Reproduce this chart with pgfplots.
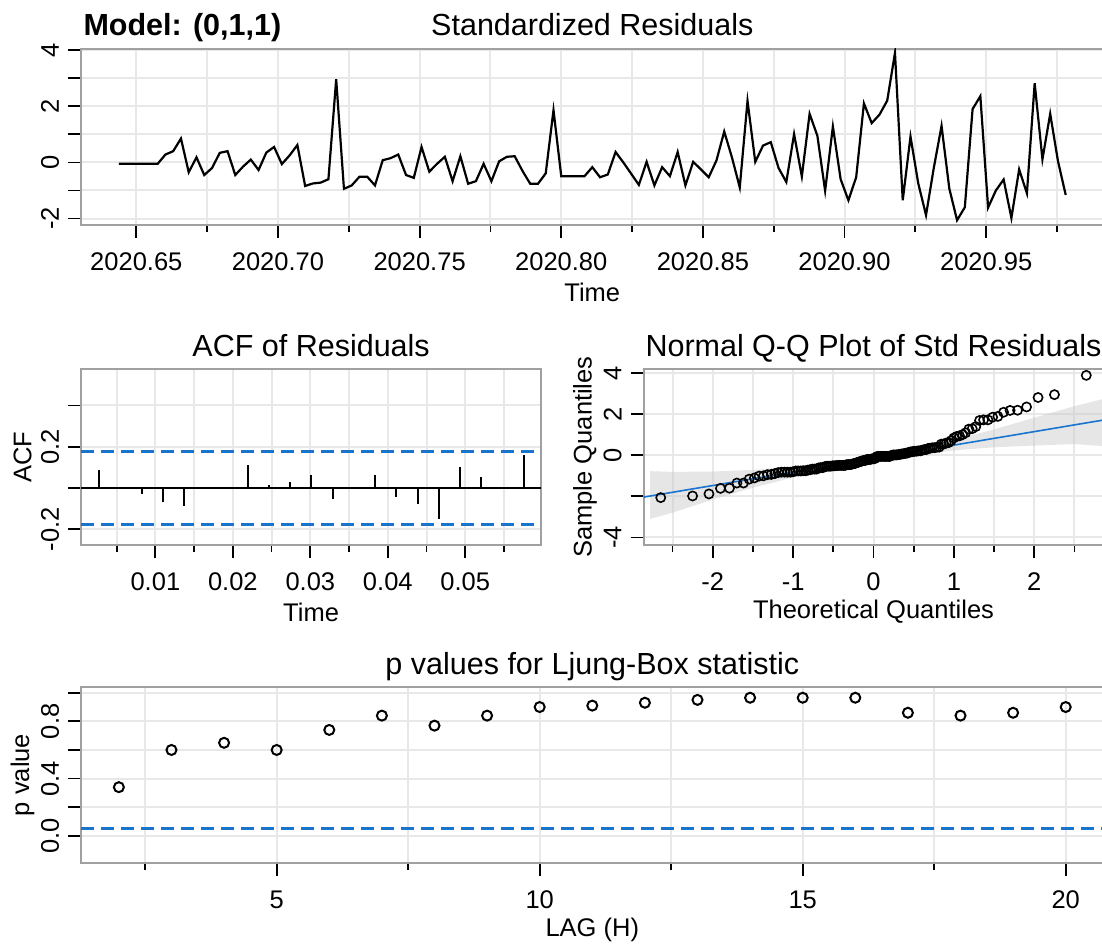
\documentclass[border=0pt]{standalone}
\usepackage{pgfplots}
\pgfplotsset{compat=1.18}
\usepackage{fontspec}
\setmainfont{Liberation Sans}
\definecolor{rblue}{RGB}{24,116,205}
\definecolor{gridc}{RGB}{232,232,232}
\definecolor{boxc}{RGB}{160,160,160}
\definecolor{bandc}{RGB}{200,200,200}
\newcommand{\lbl}{\fontsize{25.5}{28}\selectfont}
\newcommand{\ttl}{\fontsize{30.5}{33}\selectfont}
\pgfplotsset{
  rpanel/.style={
    scale only axis, height=176pt,
    scaled x ticks=false, scaled y ticks=false,
    axis line style={draw=boxc, line width=2.2pt},
    tick align=outside, major tick length=13pt, minor tick length=7pt,
    tick style={draw=black, line width=1.8pt},
    xtick pos=bottom, ytick pos=left,
    xmajorgrids, ymajorgrids, xminorgrids,
    major grid style={draw=gridc, line width=2pt},
    minor grid style={draw=gridc, line width=2pt},
    /pgf/number format/assume math mode=true,
    tick label style={font=\lbl},
    xticklabel style={anchor=center, yshift=-24pt},
    yticklabel style={xshift=-18pt, rotate=90, anchor=center},
    every axis x label/.style={at={(axis description cs:0.5,0)}, anchor=center, yshift=-67pt, font=\lbl},
    every axis y label/.style={at={(axis description cs:0,0.5)}, xshift=-58.5pt, rotate=90, anchor=center, font=\lbl},
    every axis title/.style={at={(axis description cs:0.5,1)}, anchor=base, yshift=13pt, font=\ttl},
  }
}
\begin{document}
\begin{tikzpicture}
% ---------------- Standardized residuals ----------------
\begin{axis}[rpanel, name=ts, at={(81pt,-49pt)}, anchor=north west, width=1022.6pt,
  xmin=-4.88, xmax=126.88, ymin=-2.23, ymax=4.04,
  xtick={2.25,20.5,38.75,57,75.25,93.5,111.75},
  xticklabels={2020.65,2020.70,2020.75,2020.80,2020.85,2020.90,2020.95},
  minor xtick={11.375,29.625,47.875,66.125,84.375,102.625,120.875},
  ytick={-2,-1,0,1,2,3,4}, yticklabels={{-2},{},{0},{},{2},{},{4}},
  xlabel={Time}, title={Standardized Residuals}]
\addplot[black, line width=2.2pt] coordinates {
(0,-0.05) (1,-0.05) (2,-0.05) (3,-0.05) (4,-0.05) (5,-0.05) (6,0.28) (7,0.40) (8,0.85) (9,-0.35)
(10,0.18) (11,-0.45) (12,-0.20) (13,0.34) (14,0.40) (15,-0.45) (16,-0.15) (17,0.10) (18,-0.27) (19,0.35)
(20,0.55) (21,-0.06) (22,0.25) (23,0.62) (24,-0.84) (25,-0.75) (26,-0.72) (27,-0.60) (28,2.96) (29,-0.94)
(30,-0.82) (31,-0.51) (32,-0.51) (33,-0.82) (34,0.08) (35,0.15) (36,0.28) (37,-0.45) (38,-0.55) (39,0.55)
(40,-0.33) (41,-0.05) (42,0.20) (43,-0.67) (44,0.22) (45,-0.76) (46,-0.67) (47,-0.05) (48,-0.67) (49,0.04)
(50,0.20) (51,0.22) (52,-0.30) (53,-0.76) (54,-0.76) (55,-0.39) (56,1.86) (57,-0.49) (58,-0.49) (59,-0.49)
(60,-0.49) (61,-0.17) (62,-0.53) (63,-0.43) (64,0.37) (65,0.00) (66,-0.40) (67,-0.80) (68,0.02) (69,-0.82)
(70,-0.17) (71,-0.49) (72,0.37) (73,-0.82) (74,0.02) (75,-0.25) (76,-0.53) (77,0.07) (78,1.10) (79,0.17)
(80,-0.89) (81,2.19) (82,0.02) (83,0.60) (84,0.72) (85,-0.20) (86,-0.70) (87,1.01) (88,-0.50) (89,1.73)
(90,0.95) (91,-1.01) (92,1.28) (93,-0.60) (94,-1.35) (95,-0.53) (96,2.10) (97,1.40) (98,1.70) (99,2.20)
(100,3.90) (101,-1.35) (102,0.92) (103,-0.75) (104,-1.88) (105,-0.20) (106,1.30) (107,-0.93) (108,-2.06) (109,-1.60)
(110,1.90) (111,2.36) (112,-1.61) (113,-1.00) (114,-0.61) (115,-1.98) (116,-0.25) (117,-1.10) (118,2.82) (119,0.11)
(120,1.73) (121,0.05) (122,-1.16)};
\end{axis}
\node[anchor=base west, font=\ttl\bfseries, xshift=-1pt, yshift=13pt] at (ts.north west) {Model: (0,1,1)};
% ---------------- ACF ----------------
\begin{axis}[rpanel, at={(81pt,-369pt)}, anchor=north west, width=460.2pt,
  xmin=0.0004, xmax=0.0598, ymin=-0.277, ymax=0.577,
  xtick={0.01,0.02,0.03,0.04,0.05}, xticklabels={0.01,0.02,0.03,0.04,0.05},
  minor xtick={0.005,0.015,0.025,0.035,0.045,0.055},
  ytick={-0.2,0,0.2,0.4}, yticklabels={{-0.2},{},{0.2},{}},
  xlabel={Time}, ylabel={ACF}, title={ACF of Residuals}]
\addplot[black, line width=2pt] coordinates {(0.0004,0) (0.0598,0)};
\addplot[rblue, line width=2.4pt, dash pattern=on 13pt off 7pt] coordinates {(0.0004,0.177) (0.0598,0.177)};
\addplot[rblue, line width=2.4pt, dash pattern=on 13pt off 7pt] coordinates {(0.0004,-0.177) (0.0598,-0.177)};
\addplot[ycomb, black, line width=2pt] coordinates {
(0.00274,0.086) (0.00548,0.005) (0.00822,-0.030) (0.01096,-0.068) (0.01370,-0.090)
(0.01644,0.003) (0.01918,-0.004) (0.02192,0.110) (0.02466,0.016) (0.02740,0.028)
(0.03014,0.065) (0.03288,-0.055) (0.03562,0.004) (0.03836,0.065) (0.04110,-0.044)
(0.04384,-0.079) (0.04658,-0.152) (0.04932,0.102) (0.05205,0.053) (0.05479,-0.002)
(0.05753,0.160)};
\end{axis}
% ---------------- Q-Q ----------------
\begin{axis}[rpanel, at={(643.6pt,-369pt)}, anchor=north west, width=459.8pt,
  xmin=-2.86, xmax=2.86, ymin=-4.37, ymax=4.21,
  xtick={-2,-1,0,1,2}, xticklabels={-2,-1,0,1,2},
  minor xtick={-2.5,-1.5,-0.5,0.5,1.5,2.5},
  ytick={-4,-2,0,2,4}, yticklabels={{-4},{},{0},{2},{4}},
  xlabel={Theoretical Quantiles}, ylabel={Sample Quantiles},
  title={Normal Q-Q Plot of Std Residuals}]
\addplot[fill=bandc, fill opacity=0.45, draw=none] coordinates {
(-2.78,-0.77) (-2.5,-0.805) (-2,-0.791) (-1.5,-0.708) (-1,-0.554) (-0.5,-0.331) (0,-0.037)
(0.5,0.327) (1,0.76) (1.5,1.264) (2,1.837) (2.5,2.40) (2.86,2.75)
(2.86,0.45) (2.5,0.55) (2,0.477) (1.5,0.394) (1,0.24) (0.5,0.017) (0,-0.277)
(-0.5,-0.641) (-1,-1.074) (-1.5,-1.578) (-2,-2.151) (-2.5,-2.795) (-2.78,-3.1)} -- cycle;
\addplot[rblue, line width=1.6pt] coordinates {(-2.86,-2.036) (2.86,1.722)};
\addplot[only marks, mark=o, mark size=4.6pt, mark options={black, line width=1.6pt}] coordinates {
(-2.647,-2.06) (-2.251,-1.98) (-2.047,-1.88) (-1.904,-1.61) (-1.792,-1.60) (-1.699,-1.35) (-1.618,-1.35)
(-1.547,-1.16) (-1.482,-1.10) (-1.423,-1.01) (-1.369,-1.00) (-1.319,-0.94) (-1.272,-0.93) (-1.228,-0.89)
(-1.186,-0.84) (-1.146,-0.82) (-1.107,-0.82) (-1.070,-0.82) (-1.034,-0.82) (-1.000,-0.80) (-0.967,-0.76)
(-0.935,-0.76) (-0.904,-0.76) (-0.874,-0.75) (-0.844,-0.75) (-0.816,-0.72) (-0.788,-0.70) (-0.760,-0.67)
(-0.733,-0.67) (-0.707,-0.67) (-0.681,-0.61) (-0.656,-0.60) (-0.631,-0.60) (-0.606,-0.55) (-0.582,-0.53)
(-0.557,-0.53) (-0.534,-0.53) (-0.510,-0.51) (-0.487,-0.51) (-0.464,-0.50) (-0.442,-0.49) (-0.419,-0.49)
(-0.397,-0.49) (-0.375,-0.49) (-0.353,-0.49) (-0.332,-0.45) (-0.310,-0.45) (-0.289,-0.45) (-0.268,-0.43)
(-0.246,-0.40) (-0.225,-0.39) (-0.205,-0.35) (-0.184,-0.33) (-0.163,-0.30) (-0.143,-0.27) (-0.123,-0.25)
(-0.102,-0.25) (-0.082,-0.20) (-0.061,-0.20) (-0.041,-0.20) (-0.020,-0.17) (0,-0.17) (0.020,-0.15)
(0.041,-0.06) (0.061,-0.05) (0.082,-0.05) (0.102,-0.05) (0.123,-0.05) (0.143,-0.05) (0.163,-0.05)
(0.184,-0.05) (0.205,-0.05) (0.225,0.00) (0.246,0.02) (0.268,0.02) (0.289,0.02) (0.310,0.04)
(0.332,0.05) (0.353,0.07) (0.375,0.08) (0.397,0.10) (0.419,0.11) (0.442,0.15) (0.464,0.17)
(0.487,0.18) (0.510,0.20) (0.534,0.20) (0.557,0.22) (0.582,0.22) (0.606,0.25) (0.631,0.28)
(0.656,0.28) (0.681,0.34) (0.707,0.35) (0.733,0.37) (0.760,0.37) (0.788,0.40) (0.816,0.40)
(0.844,0.55) (0.874,0.55) (0.904,0.60) (0.935,0.62) (0.967,0.72) (1.000,0.85) (1.034,0.92)
(1.070,0.95) (1.107,1.01) (1.146,1.10) (1.186,1.28) (1.228,1.30) (1.272,1.40) (1.319,1.70)
(1.369,1.73) (1.423,1.73) (1.482,1.86) (1.547,1.90) (1.618,2.10) (1.699,2.19) (1.792,2.20)
(1.904,2.36) (2.047,2.82) (2.251,2.96) (2.647,3.90)};
\end{axis}
% ---------------- Ljung-Box ----------------
\begin{axis}[rpanel, at={(81pt,-687pt)}, anchor=north west, width=1022.6pt,
  xmin=1.28, xmax=20.72, ymin=-0.19, ymax=1.04,
  xtick={5,10,15,20}, xticklabels={5,10,15,20},
  minor xtick={2.5,7.5,12.5,17.5},
  ytick={0,0.2,0.4,0.6,0.8,1.0}, yticklabels={{0.0},{},{0.4},{},{0.8},{}},
  xlabel={LAG (H)}, ylabel={p value}, title={p values for Ljung-Box statistic}]
\addplot[rblue, line width=2.4pt, dash pattern=on 13pt off 7pt] coordinates {(1.28,0.05) (20.72,0.05)};
\addplot[only marks, mark=o, mark size=5pt, mark options={black, line width=2pt}] coordinates {
(2,0.34) (3,0.60) (4,0.65) (5,0.60) (6,0.74) (7,0.84) (8,0.77) (9,0.84) (10,0.90)
(11,0.91) (12,0.93) (13,0.95) (14,0.965) (15,0.965) (16,0.965) (17,0.86) (18,0.84) (19,0.86) (20,0.90)};
\end{axis}
\pgfresetboundingbox
\useasboundingbox (0pt,0pt) rectangle (1102pt,-949pt);
\end{tikzpicture}
\end{document}
